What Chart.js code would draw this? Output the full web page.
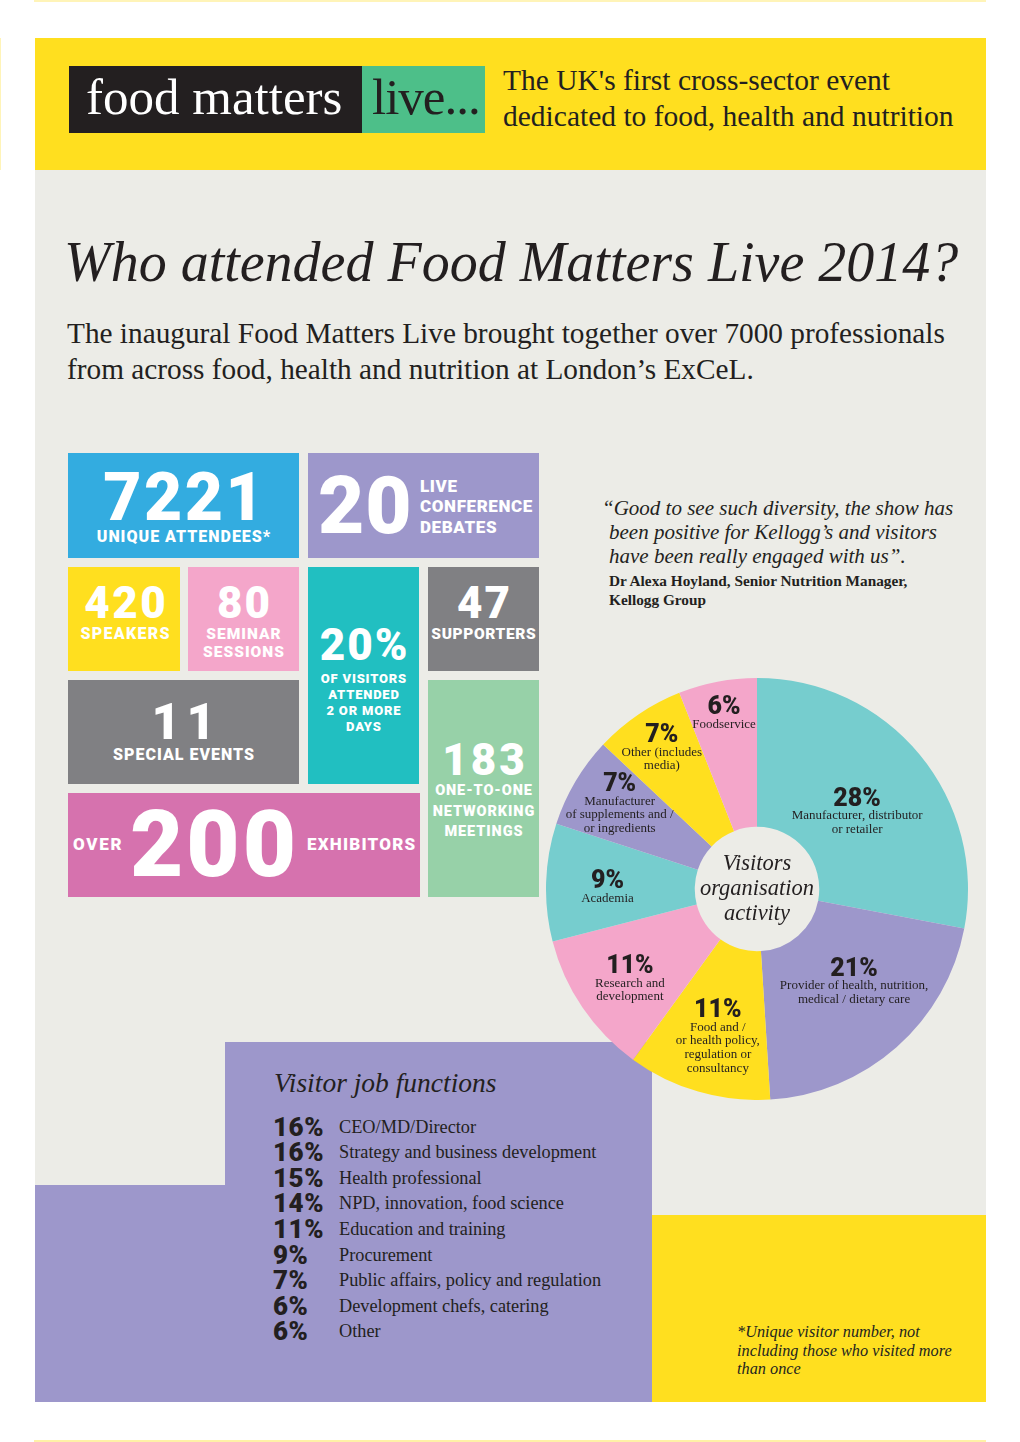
<!DOCTYPE html>
<html>
<head>
<meta charset="utf-8">
<script src="https://cdn.jsdelivr.net/npm/chart.js@4.4.1/dist/chart.umd.min.js"></script>
<style>
  body { margin: 0; width: 1020px; height: 1442px; background: #fff; position: relative; overflow: hidden; }
  .abs { position: absolute; }
  .t { position: absolute; white-space: nowrap; color: #231F20; box-sizing: border-box; }
  .blk { font-family: Roboto, Lato, "Liberation Sans", sans-serif; font-weight: 900; }
  .ser { font-family: "Liberation Serif", "DejaVu Serif", serif; }
  .it { font-style: italic; }
  .w { color: #fff; }
</style>
</head>
<body>
<div class="abs" style="left:34px;top:0;width:952px;height:2px;background:#FFF4B8"></div>
<div class="abs" style="left:34px;top:1440px;width:952px;height:2px;background:#FFF1A6"></div>
<div class="abs" style="left:0;top:38px;width:1px;height:132px;background:#FFF4B8"></div>

<div class="abs" style="left:35px;top:170px;width:951px;height:1232px;background:#ECECE7"></div>
<div class="abs" style="left:35px;top:38px;width:951px;height:132px;background:#FFDF1F"></div>
<div class="abs" style="left:69px;top:66px;width:293px;height:67px;background:#231F20"></div>
<div class="abs" style="left:362px;top:66px;width:123px;height:67px;background:#4DBF89"></div>

<!-- stat boxes -->
<div class="abs" style="left:68px;top:453px;width:231px;height:105px;background:#33ACE0"></div>
<div class="abs" style="left:308px;top:453px;width:231px;height:105px;background:#9D97CB"></div>
<div class="abs" style="left:68px;top:567px;width:112px;height:104px;background:#FFDF1F"></div>
<div class="abs" style="left:188px;top:567px;width:111px;height:104px;background:#F4A6CA"></div>
<div class="abs" style="left:308px;top:567px;width:111px;height:217px;background:#21BFC1"></div>
<div class="abs" style="left:428px;top:567px;width:111px;height:104px;background:#808083"></div>
<div class="abs" style="left:68px;top:680px;width:231px;height:104px;background:#808083"></div>
<div class="abs" style="left:428px;top:680px;width:111px;height:217px;background:#97D1A8"></div>
<div class="abs" style="left:68px;top:793px;width:352px;height:104px;background:#D672AE"></div>

<!-- job functions and footnote panels -->
<div class="abs" style="left:225px;top:1042px;width:427px;height:360px;background:#9D97CB"></div>
<div class="abs" style="left:35px;top:1185px;width:617px;height:217px;background:#9D97CB"></div>
<div class="abs" style="left:652px;top:1215px;width:334px;height:187px;background:#FFDF1F"></div>

<div class="abs" style="left:546px;top:678px;width:422px;height:422px;z-index:5">
  <canvas id="org-chart" width="422" height="422"></canvas>
</div>

<script>
// Visitors organisation activity (doughnut), clockwise from 12 o'clock
const orgValues = [28, 21, 11, 11, 9, 7, 7, 6];
const orgLabels = [
  ['Manufacturer, distributor', 'or retailer'],
  ['Provider of health, nutrition,', 'medical / dietary care'],
  ['Food and /', 'or health policy,', 'regulation or', 'consultancy'],
  ['Research and', 'development'],
  ['Academia'],
  ['Manufacturer', 'of supplements and /', 'or ingredients'],
  ['Other (includes', 'media)'],
  ['Foodservice'],
];
const orgColors = ['#76CDCE', '#9D97CB', '#FFDF1F', '#F4A6CA', '#76CDCE', '#9D97CB', '#FFDF1F', '#F4A6CA'];
const centerTitle = ['Visitors', 'organisation', 'activity'];

// Visitor job functions
const jobValues = [16, 16, 15, 14, 11, 9, 7, 6, 6];
const jobLabels = [
  'CEO/MD/Director',
  'Strategy and business development',
  'Health professional',
  'NPD, innovation, food science',
  'Education and training',
  'Procurement',
  'Public affairs, policy and regulation',
  'Development chefs, catering',
  'Other',
];

function put(text, x, cy, size, cls, opts = {}) {
  const d = document.createElement('div');
  const lh = size * 0.8;
  d.className = 't ' + cls;
  d.textContent = text;
  d.style.fontSize = size + 'px';
  d.style.lineHeight = lh + 'px';
  d.style.top = (cy - lh / 2) + 'px';
  d.style.left = x + 'px';
  if (opts.ls) d.style.letterSpacing = opts.ls + 'px';
  if (opts.w) {
    d.style.width = opts.w + 'px';
    d.style.textAlign = 'center';
    if (opts.ls) d.style.paddingLeft = opts.ls + 'px';
  }
  if (opts.color) d.style.color = opts.color;
  if (opts.weight) d.style.fontWeight = opts.weight;
  document.body.appendChild(d);
  return d;
}

// header
put('food matters', 86, 97, 51, 'ser w');
put('live...', 372, 97, 51, 'ser', { ls: -1 });
put("The UK's first cross-sector event", 503, 81, 29.5, 'ser');
put('dedicated to food, health and nutrition', 503, 116.5, 29.5, 'ser');

put('Who attended Food Matters Live 2014?', 64, 262, 56, 'ser it');
put('The inaugural Food Matters Live brought together over 7000 professionals', 67, 334, 29.3, 'ser');
put('from across food, health and nutrition at London\u2019s ExCeL.', 67, 370, 29.3, 'ser');

// stat boxes
put('7221', 68, 498.5, 66, 'blk w', { w: 231, ls: 2.5 });
put('UNIQUE ATTENDEES*', 68, 537, 16, 'blk w', { w: 231, ls: 1 });
put('20', 318, 505.5, 80, 'blk w', { ls: 1 });
put('LIVE', 420, 487, 17, 'blk w', { ls: 0.6 });
put('CONFERENCE', 420, 507, 17, 'blk w', { ls: 0.6 });
put('DEBATES', 420, 528, 17, 'blk w', { ls: 0.6 });
put('420', 68, 603.5, 44, 'blk w', { w: 114, ls: 2.5 });
put('SPEAKERS', 68, 634, 16, 'blk w', { w: 114, ls: 1.3 });
put('80', 188, 603.5, 44, 'blk w', { w: 111, ls: 2 });
put('SEMINAR', 188, 634, 15.5, 'blk w', { w: 111, ls: 1 });
put('SESSIONS', 188, 652, 15.5, 'blk w', { w: 111, ls: 1 });
put('47', 428, 603.5, 44, 'blk w', { w: 111, ls: 2 });
put('SUPPORTERS', 428, 634, 15.5, 'blk w', { w: 111, ls: 0.6 });
put('20%', 308, 646, 44, 'blk w', { w: 111, ls: 2 });
['OF VISITORS', 'ATTENDED', '2 OR MORE', 'DAYS'].forEach((s, i) => put(s, 308, 679 + i * 16, 13, 'blk w', { w: 111, ls: 0.8 }));
put('11', 68, 722, 50, 'blk w', { w: 231, ls: 6 });
put('SPECIAL EVENTS', 68, 755.5, 16, 'blk w', { w: 231, ls: 1 });
put('183', 428, 760.5, 44, 'blk w', { w: 111, ls: 3 });
['ONE-TO-ONE', 'NETWORKING', 'MEETINGS'].forEach((s, i) => put(s, 428, 791 + i * 20.5, 14.5, 'blk w', { w: 111, ls: 0.9 }));
put('OVER', 73, 845, 17, 'blk w', { ls: 1.7 });
put('200', 126, 844.5, 92, 'blk w', { w: 174, ls: 3 });
put('EXHIBITORS', 307, 845, 17, 'blk w', { ls: 1.2 });

// quote
put('\u201CGood to see such diversity, the show has', 602, 508, 21, 'ser it');
put('been positive for Kellogg\u2019s and visitors', 609, 532, 21, 'ser it');
put('have been really engaged with us\u201D.', 609, 556, 21, 'ser it');
put('Dr Alexa Hoyland, Senior Nutrition Manager,', 609, 581, 15.3, 'ser', { weight: 700 });
put('Kellogg Group', 609, 600, 15.3, 'ser', { weight: 700 });

// job functions list
put('Visitor job functions', 274, 1083, 27.5, 'ser it');
jobValues.forEach((v, i) => {
  const cy = 1127 + i * 25.6;
  put(v + '%', 273, cy, 26, 'blk', { ls: 0.5 });
  put(jobLabels[i], 339, cy, 18.3, 'ser');
});

// footnote
put('*Unique visitor number, not', 737, 1332, 16.3, 'ser it');
put('including those who visited more', 737, 1350.5, 16.3, 'ser it');
put('than once', 737, 1369, 16.3, 'ser it');

const sliceLabels = {
  id: 'sliceLabels',
  afterDatasetsDraw(chart, args, opts) {
    const ctx = chart.ctx;
    const meta = chart.getDatasetMeta(0);
    ctx.save();
    ctx.fillStyle = '#231F20';
    ctx.textAlign = 'center';
    ctx.textBaseline = 'alphabetic';
    meta.data.forEach((arc, i) => {
      const p = arc.getProps(['startAngle', 'endAngle', 'outerRadius', 'x', 'y'], true);
      const a = p.startAngle + (p.endAngle - p.startAngle) * opts.at[i];
      const r = p.outerRadius * opts.radius[i];
      const px = p.x + Math.cos(a) * r;
      const py = p.y + Math.sin(a) * r;
      ctx.font = '900 25px Roboto, Lato, sans-serif';
      ctx.fillText(orgValues[i] + '%', px, py + 9);
      ctx.font = '13px "Liberation Serif", serif';
      orgLabels[i].forEach((line, k) => ctx.fillText(line, px, py + 18 + k * 13.7 + 4.5));
    });
    // centre title
    const c = meta.data[0];
    ctx.font = 'italic 22.5px "Liberation Serif", serif';
    centerTitle.forEach((line, k) => ctx.fillText(line, c.x, c.y - 25 + k * 25 + 6));
    ctx.restore();
  },
};

new Chart(document.getElementById('org-chart'), {
  type: 'doughnut',
  data: {
    labels: orgLabels.map(l => l.join(' ')),
    datasets: [{ data: orgValues, backgroundColor: orgColors, borderWidth: 0 }],
  },
  options: {
    responsive: false,
    animation: false,
    cutout: '29.5%',
    layout: { padding: 0 },
    plugins: {
      legend: { display: false },
      tooltip: { enabled: false },
      sliceLabels: {
        at: [0.47, 0.37, 0.55, 0.59, 0.56, 0.79, 0.61, 0.53],
        radius: [0.645, 0.59, 0.595, 0.70, 0.71, 0.825, 0.865, 0.885],
      },
    },
  },
  plugins: [sliceLabels],
});
</script>
</body>
</html>
